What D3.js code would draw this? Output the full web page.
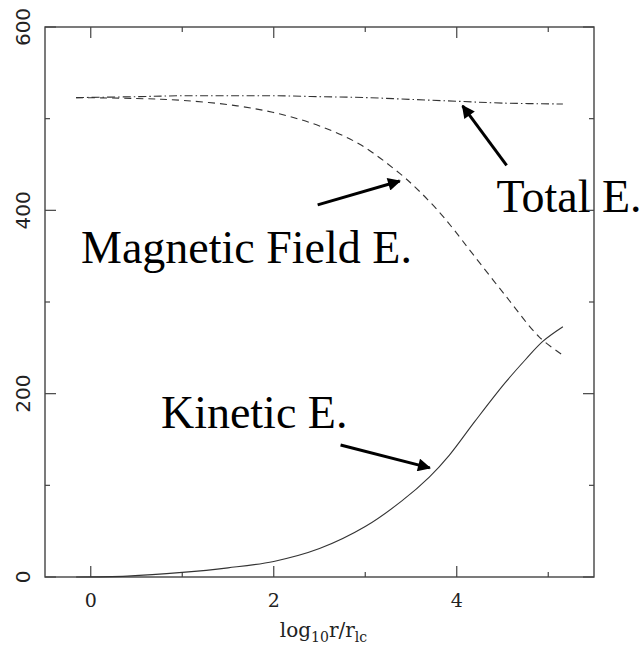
<!DOCTYPE html>
<html>
<head>
<meta charset="utf-8">
<script src="https://cdn.jsdelivr.net/npm/d3@7"></script>
<style>
  body { margin: 0; background: #fff; }
  svg { display: block; }
</style>
</head>
<body>
<div id="chart"></div>
<script>
// energy curves (x = log10 r/r_lc, y = energy)
const kineticX = [-0.16, 0.4, 1.0, 1.5, 2.0, 2.5, 3.0, 3.4, 3.7, 3.92, 4.2, 4.53, 4.75, 4.94, 5.16];
const kineticY = [0, 1, 5, 10, 17, 31, 55, 83, 109, 133, 170, 212, 237, 257, 273];

const magneticX = [-0.16, 0.5, 1.0, 1.6, 2.07, 2.5, 2.94, 3.38, 3.6, 3.81, 3.96, 4.17, 4.54, 4.9, 5.16];
const magneticY = [523, 522, 520, 514, 505, 492, 472, 440, 420, 398, 380, 353, 306, 262, 242];

const totalX = [-0.16, 0.5, 1.0, 1.5, 2.0, 2.5, 3.0, 3.5, 4.0, 4.5, 5.16];
const totalY = [523, 524, 525, 525, 525, 524, 523, 521, 519, 517, 516];

// axis ticks
const xMajorTicks = [0, 2, 4];
const xMinorTicks = [1, 3, 5];
const yMajorTicks = [0, 200, 400, 600];
const yMinorTicks = [100, 300, 500];

// annotations in data units: label position, arrow tail and arrow tip
const labelTexts = ['Total E.', 'Magnetic Field E.', 'Kinetic E.'];
const labelPos = [[4.435, 398], [-0.106, 342.5], [0.767, 162.5]];
const arrowTails = [[4.545, 449], [2.48, 406], [2.73, 144]];
const arrowTips = [[4.064, 514], [3.377, 432], [3.705, 119]];

const width = 643, height = 667;
const margin = {left: 45, right: 49, top: 27, bottom: 90};

const svg = d3.select('#chart').append('svg')
  .attr('width', width)
  .attr('height', height);

const x = d3.scaleLinear().domain([-0.5, 5.5]).range([margin.left, width - margin.right]);
const y = d3.scaleLinear().domain([0, 600]).range([height - margin.bottom, margin.top]);

const frameColor = '#444';

// arrowhead marker
svg.append('defs').append('marker')
  .attr('id', 'head')
  .attr('viewBox', '0 0 10 10')
  .attr('refX', 9)
  .attr('refY', 5)
  .attr('markerUnits', 'userSpaceOnUse')
  .attr('markerWidth', 16)
  .attr('markerHeight', 13)
  .attr('orient', 'auto')
  .append('path')
  .attr('d', 'M0,0 L10,5 L0,10 Z')
  .attr('fill', '#000');

// frame
svg.append('rect')
  .attr('x', x.range()[0])
  .attr('y', y.range()[1])
  .attr('width', x.range()[1] - x.range()[0])
  .attr('height', y.range()[0] - y.range()[1])
  .attr('fill', 'none')
  .attr('stroke', frameColor)
  .attr('stroke-width', 1.4);

// inward ticks on all four sides
const tickG = svg.append('g').attr('stroke', frameColor).attr('stroke-width', 1.2);
const xTicks = xMajorTicks.map(v => ({v, len: 11})).concat(xMinorTicks.map(v => ({v, len: 5})));
const yTicks = yMajorTicks.map(v => ({v, len: 11})).concat(yMinorTicks.map(v => ({v, len: 5})));

tickG.selectAll('.xb').data(xTicks).join('line')
  .attr('x1', d => x(d.v)).attr('x2', d => x(d.v))
  .attr('y1', y(0)).attr('y2', d => y(0) - d.len);
tickG.selectAll('.xt').data(xTicks).join('line')
  .attr('x1', d => x(d.v)).attr('x2', d => x(d.v))
  .attr('y1', y(600)).attr('y2', d => y(600) + d.len);
tickG.selectAll('.yl').data(yTicks).join('line')
  .attr('y1', d => y(d.v)).attr('y2', d => y(d.v))
  .attr('x1', x(-0.5)).attr('x2', d => x(-0.5) + d.len);
tickG.selectAll('.yr').data(yTicks).join('line')
  .attr('y1', d => y(d.v)).attr('y2', d => y(d.v))
  .attr('x1', x(5.5)).attr('x2', d => x(5.5) - d.len);

// tick labels
svg.selectAll('.xlab').data(xMajorTicks).join('text')
  .attr('x', d => x(d))
  .attr('y', y(0) + 30)
  .attr('text-anchor', 'middle')
  .attr('font-family', 'DejaVu Serif')
  .attr('font-size', 19)
  .attr('fill', '#222')
  .text(d => d);

svg.selectAll('.ylab').data(yMajorTicks).join('text')
  .attr('transform', d => `translate(30,${y(d)}) rotate(-90)`)
  .attr('text-anchor', 'middle')
  .attr('font-family', 'DejaVu Sans')
  .attr('font-size', 20)
  .attr('fill', '#222')
  .text(d => d);

// x axis title: log10 r / r_lc
const xTitle = svg.append('text')
  .attr('x', (x.range()[0] + x.range()[1]) / 2 + 4)
  .attr('y', 637)
  .attr('text-anchor', 'middle')
  .attr('font-family', 'DejaVu Serif')
  .attr('font-size', 20)
  .attr('fill', '#222');
xTitle.append('tspan').text('log');
xTitle.append('tspan').attr('font-size', 14).attr('dy', 5).text('10');
xTitle.append('tspan').attr('dy', -5).text('r/r');
xTitle.append('tspan').attr('font-size', 14).attr('dy', 5).text('lc');

// curves
const line = d3.line()
  .x(d => x(d[0]))
  .y(d => y(d[1]))
  .curve(d3.curveCatmullRom.alpha(0.5));

const series = [
  {xs: kineticX, ys: kineticY, dash: null},
  {xs: magneticX, ys: magneticY, dash: '7,5'},
  {xs: totalX, ys: totalY, dash: '8,3,1.5,3'}
];

svg.selectAll('.curve').data(series).join('path')
  .attr('d', s => line(s.xs.map((v, i) => [v, s.ys[i]])))
  .attr('fill', 'none')
  .attr('stroke', '#333')
  .attr('stroke-width', 1.1)
  .attr('stroke-dasharray', s => s.dash);

// annotation arrows
svg.selectAll('.arrow').data(arrowTails).join('line')
  .attr('x1', d => x(d[0])).attr('y1', d => y(d[1]))
  .attr('x2', (d, i) => x(arrowTips[i][0])).attr('y2', (d, i) => y(arrowTips[i][1]))
  .attr('stroke', '#000')
  .attr('stroke-width', 3)
  .attr('marker-end', 'url(#head)');

// annotation labels
svg.selectAll('.label').data(labelTexts).join('text')
  .attr('x', (d, i) => x(labelPos[i][0]))
  .attr('y', (d, i) => y(labelPos[i][1]))
  .attr('font-family', 'Liberation Serif')
  .attr('font-size', 46)
  .attr('fill', '#000')
  .text(d => d);
</script>
</body>
</html>
